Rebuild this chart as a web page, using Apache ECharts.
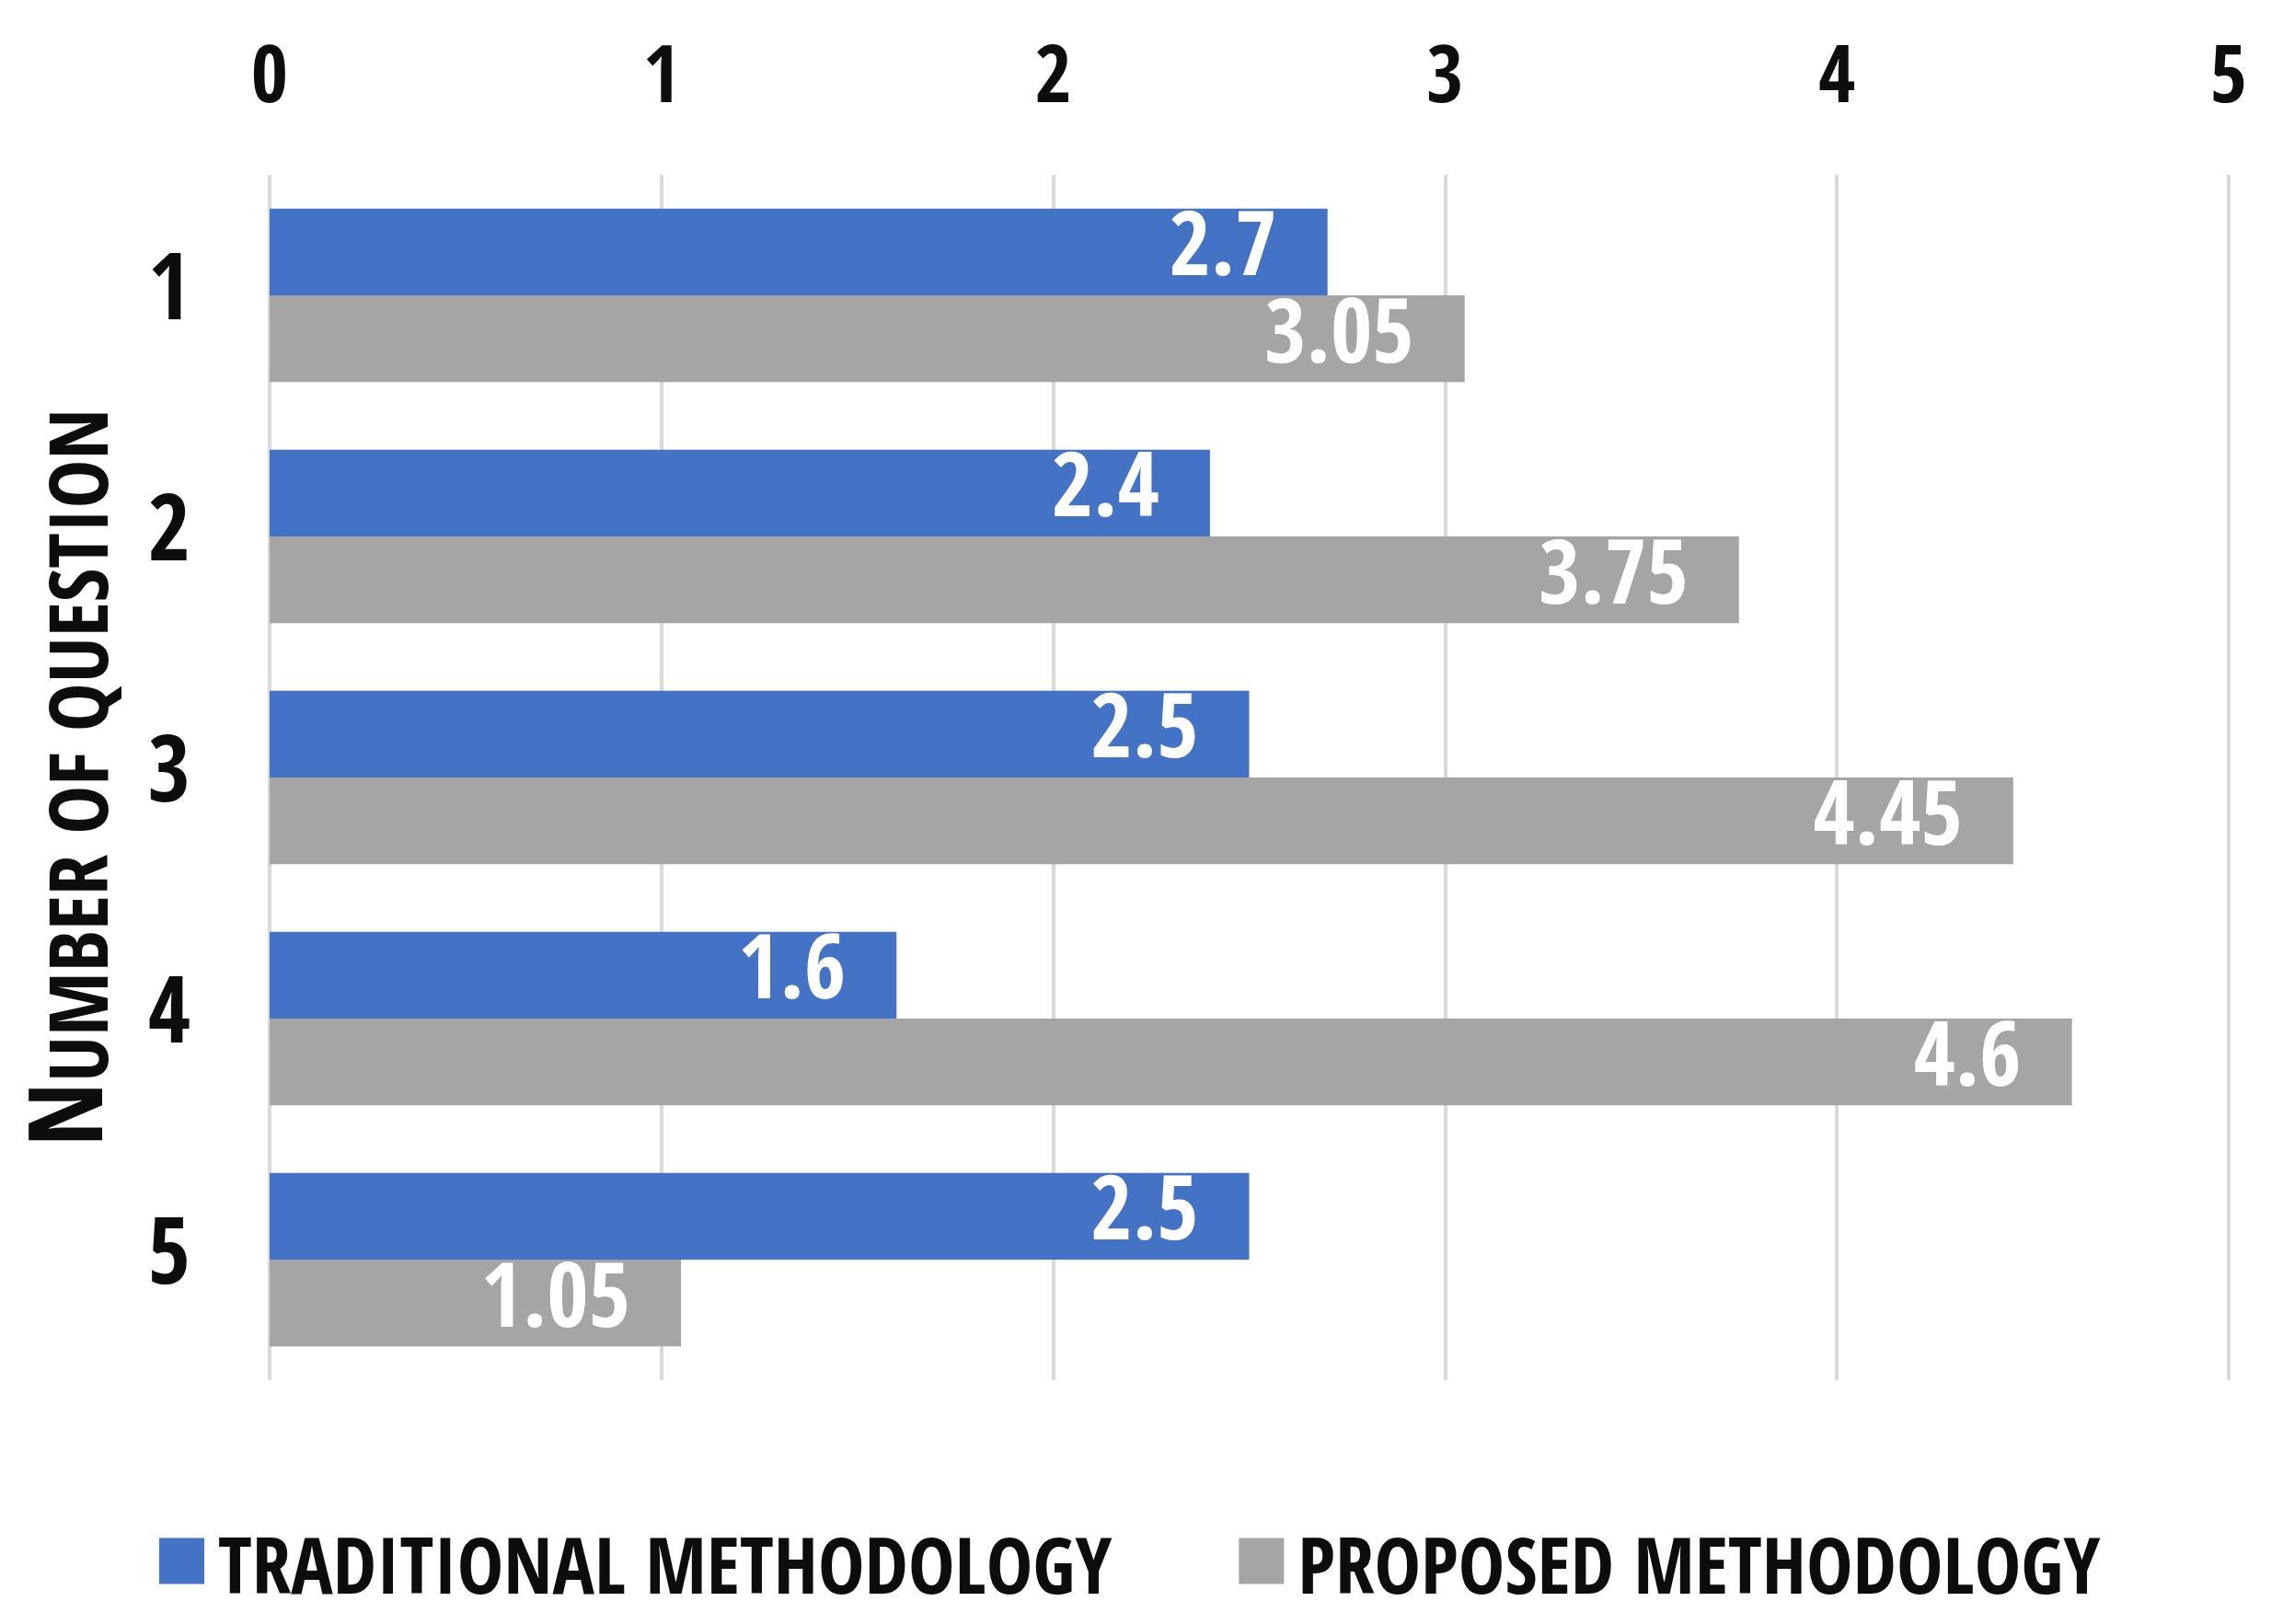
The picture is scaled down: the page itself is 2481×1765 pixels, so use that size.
<!DOCTYPE html>
<html>
<head>
<meta charset="utf-8">
<script src="https://cdn.jsdelivr.net/npm/echarts@6/dist/echarts.min.js"></script>
<style>
html,body{margin:0;padding:0;background:#fff;}
#chart{width:2481px;height:1765px;}
</style>
</head>
<body>
<div id="chart"></div>
<script>
var questions = ['1', '2', '3', '4', '5'];
var traditional = [2.7, 2.4, 2.5, 1.6, 2.5];
var proposed = [3.05, 3.75, 4.45, 4.6, 1.05];
var xTicks = [0, 1, 2, 3, 4, 5];
var seriesNames = ['TRADITIONAL METHODOLOGY', 'PROPOSED METHODOLOGY'];

var FONT = "'Open Sans Condensed', 'Roboto', 'DejaVu Sans Condensed', sans-serif";
var chart = echarts.init(document.getElementById('chart'), null, {renderer: 'canvas'});

var labelStyle = {
  show: true,
  position: 'insideRight',
  distance: 55,
  color: '#ffffff',
  fontFamily: FONT,
  fontWeight: 'bold',
  fontSize: 98
};

chart.setOption({
  animation: false,
  backgroundColor: '#ffffff',
  grid: {left: 293, right: 59, top: 190, bottom: 265, containLabel: false},
  legend: {
    data: seriesNames,
    left: 168,
    top: 1662,
    icon: 'rect',
    itemWidth: 49,
    itemHeight: 50,
    itemGap: 138,
    formatter: '{t|{name}}',
    textStyle: {
      fontFamily: FONT,
      fontWeight: 'bold',
      fontSize: 85,
      color: '#0d0d0d',
      rich: {
        t: {
          fontFamily: FONT,
          fontWeight: 'bold',
          fontSize: 85,
          color: '#0d0d0d',
          padding: [26, 0, 0, 10]
        }
      }
    }
  },
  xAxis: {
    type: 'value',
    position: 'top',
    min: xTicks[0],
    max: xTicks[xTicks.length - 1],
    interval: 1,
    axisLine: {show: false},
    axisTick: {show: false},
    axisLabel: {
      margin: 58,
      fontFamily: FONT,
      fontWeight: 'bold',
      fontSize: 87,
      color: '#0d0d0d'
    },
    splitLine: {show: true, lineStyle: {color: '#d9d9d9', width: 4}}
  },
  yAxis: {
    type: 'category',
    data: questions,
    inverse: true,
    axisLine: {show: false},
    axisTick: {show: false},
    axisLabel: {
      margin: 86,
      fontFamily: FONT,
      fontWeight: 'bold',
      fontSize: 100,
      color: '#0d0d0d'
    },
    name: '{a|N}{b|UMBER OF QUESTION}',
    nameLocation: 'middle',
    nameRotate: 90,
    nameGap: 155,
    nameTextStyle: {
      rich: {
        a: {fontFamily: FONT, fontWeight: 'bold', fontSize: 112, color: '#0d0d0d', verticalAlign: 'bottom', lineHeight: 116},
        b: {fontFamily: FONT, fontWeight: 'bold', fontSize: 89, color: '#0d0d0d', verticalAlign: 'bottom', lineHeight: 116}
      }
    }
  },
  series: [
    {
      name: seriesNames[0],
      type: 'bar',
      data: traditional,
      barGap: '0%',
      barCategoryGap: '28%',
      itemStyle: {color: '#4472C4'},
      label: labelStyle
    },
    {
      name: seriesNames[1],
      type: 'bar',
      data: proposed,
      barGap: '0%',
      barCategoryGap: '28%',
      itemStyle: {color: '#A5A5A5'},
      label: labelStyle
    }
  ]
});
</script>
</body>
</html>
